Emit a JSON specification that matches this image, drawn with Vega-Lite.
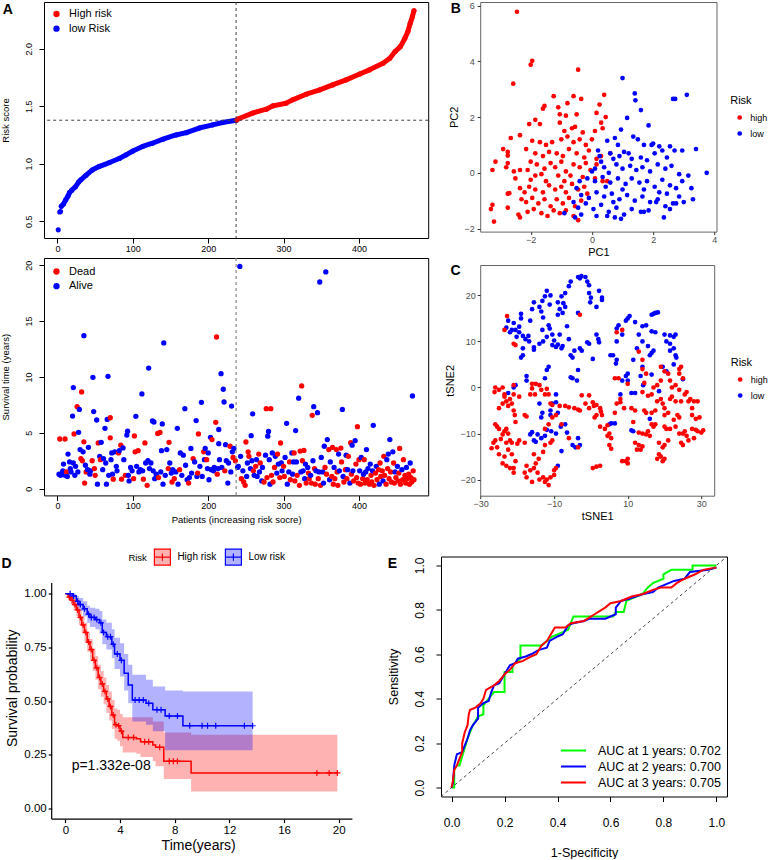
{
  "$schema": "https://vega.github.io/schema/vega-lite/v6.json",
  "background": "white",
  "padding": {"left": 0, "top": 1, "right": 0, "bottom": 0},
  "config": {
    "font": "Liberation Sans",
    "view": {"stroke": null},
    "axis": {"grid": false, "labelFlush": false, "labelOverlap": false, "titleFontWeight": "normal", "titleColor": "#000", "labelColor": "#000", "tickColor": "#000", "domainColor": "#000"},
    "legend": {"titleFontWeight": "normal", "titleColor": "#000", "labelColor": "#000", "padding": 0}
  },
  "datasets": {
    "panels": [{"p": "A"}, {"p": "B"}, {"p": "C"}, {"p": "D"}, {"p": "E"}],
    "cuts": [{"i": 237, "r": 1.378}],
    "pval": [{"txt": "p=1.332e-08"}],
    "riskcurve": [
      {"i":1,"r":0.425,"g":"low Risk"},{"i":3,"r":0.58,"g":"low Risk"},{"i":4,"r":0.585,"g":"low Risk"},{"i":5,"r":0.63,"g":"low Risk"},{"i":8,"r":0.65,"g":"low Risk"},{"i":11,"r":0.686,"g":"low Risk"},{"i":14,"r":0.72,"g":"low Risk"},{"i":16,"r":0.75,"g":"low Risk"},{"i":19,"r":0.77,"g":"low Risk"},{"i":24,"r":0.8,"g":"low Risk"},{"i":28,"r":0.84,"g":"low Risk"},{"i":31,"r":0.86,"g":"low Risk"},{"i":38,"r":0.9,"g":"low Risk"},{"i":46,"r":0.945,"g":"low Risk"},{"i":55,"r":0.975,"g":"low Risk"},{"i":69,"r":1.01,"g":"low Risk"},{"i":82,"r":1.045,"g":"low Risk"},{"i":91,"r":1.077,"g":"low Risk"},{"i":100,"r":1.11,"g":"low Risk"},{"i":113,"r":1.15,"g":"low Risk"},{"i":126,"r":1.178,"g":"low Risk"},{"i":140,"r":1.213,"g":"low Risk"},{"i":157,"r":1.25,"g":"low Risk"},{"i":171,"r":1.27,"g":"low Risk"},{"i":188,"r":1.31,"g":"low Risk"},{"i":206,"r":1.338,"g":"low Risk"},{"i":219,"r":1.358,"g":"low Risk"},{"i":237,"r":1.378,"g":"low Risk"},
      {"i":238,"r":1.38,"g":"High risk"},{"i":241,"r":1.393,"g":"High risk"},{"i":259,"r":1.44,"g":"High risk"},{"i":277,"r":1.474,"g":"High risk"},{"i":286,"r":1.503,"g":"High risk"},{"i":303,"r":1.526,"g":"High risk"},{"i":312,"r":1.555,"g":"High risk"},{"i":330,"r":1.604,"g":"High risk"},{"i":348,"r":1.642,"g":"High risk"},{"i":365,"r":1.685,"g":"High risk"},{"i":383,"r":1.729,"g":"High risk"},{"i":401,"r":1.78,"g":"High risk"},{"i":414,"r":1.816,"g":"High risk"},{"i":432,"r":1.873,"g":"High risk"},{"i":441,"r":1.917,"g":"High risk"},{"i":448,"r":1.975,"g":"High risk"},{"i":455,"r":2.018,"g":"High risk"},{"i":461,"r":2.09,"g":"High risk"},{"i":465,"r":2.15,"g":"High risk"},{"i":468,"r":2.22,"g":"High risk"},{"i":471,"r":2.28,"g":"High risk"},{"i":473,"r":2.33,"g":"High risk"}
    ],
    "surv": [
      {"i":2,"t":1.3,"s":"Alive"},{"i":3,"t":4.45,"s":"Dead"},{"i":4,"t":1.2,"s":"Alive"},{"i":6,"t":1.4,"s":"Alive"},{"i":7,"t":1.6,"s":"Alive"},{"i":8,"t":2.2,"s":"Alive"},{"i":10,"t":4.45,"s":"Dead"},{"i":10,"t":1.2,"s":"Alive"},{"i":12,"t":1.5,"s":"Dead"},{"i":13,"t":1.1,"s":"Alive"},{"i":14,"t":3.1,"s":"Alive"},{"i":16,"t":2.4,"s":"Alive"},{"i":17,"t":1.8,"s":"Alive"},{"i":18,"t":1.5,"s":"Alive"},{"i":20,"t":6.5,"s":"Alive"},{"i":21,"t":9.05,"s":"Alive"},{"i":21,"t":2.3,"s":"Alive"},{"i":22,"t":4.9,"s":"Dead"},{"i":23,"t":1.2,"s":"Alive"},{"i":24,"t":2.0,"s":"Alive"},{"i":26,"t":7.35,"s":"Dead"},{"i":27,"t":1.5,"s":"Alive"},{"i":28,"t":5.05,"s":"Alive"},{"i":29,"t":7.1,"s":"Alive"},{"i":30,"t":3.5,"s":"Alive"},{"i":31,"t":2.7,"s":"Dead"},{"i":32,"t":8.66,"s":"Dead"},{"i":33,"t":2.5,"s":"Dead"},{"i":34,"t":3.3,"s":"Alive"},{"i":35,"t":13.7,"s":"Alive"},{"i":35,"t":4.2,"s":"Dead"},{"i":36,"t":0.5,"s":"Dead"},{"i":37,"t":2.1,"s":"Alive"},{"i":38,"t":1.5,"s":"Dead"},{"i":40,"t":1.7,"s":"Alive"},{"i":41,"t":3.7,"s":"Alive"},{"i":43,"t":1.3,"s":"Alive"},{"i":44,"t":1.6,"s":"Alive"},{"i":46,"t":2.5,"s":"Dead"},{"i":47,"t":9.97,"s":"Alive"},{"i":48,"t":6.9,"s":"Alive"},{"i":49,"t":1.8,"s":"Dead"},{"i":50,"t":1.2,"s":"Dead"},{"i":52,"t":6.15,"s":"Alive"},{"i":53,"t":0.4,"s":"Alive"},{"i":54,"t":4.1,"s":"Dead"},{"i":56,"t":2.9,"s":"Alive"},{"i":57,"t":2.6,"s":"Dead"},{"i":58,"t":4.15,"s":"Alive"},{"i":60,"t":1.7,"s":"Alive"},{"i":61,"t":2.7,"s":"Alive"},{"i":63,"t":5.4,"s":"Alive"},{"i":64,"t":2.3,"s":"Alive"},{"i":65,"t":0.4,"s":"Alive"},{"i":66,"t":6.2,"s":"Alive"},{"i":67,"t":10.06,"s":"Alive"},{"i":68,"t":1.2,"s":"Alive"},{"i":70,"t":6.35,"s":"Dead"},{"i":70,"t":4.55,"s":"Dead"},{"i":71,"t":2.6,"s":"Alive"},{"i":72,"t":3.2,"s":"Alive"},{"i":73,"t":1.3,"s":"Alive"},{"i":74,"t":0.85,"s":"Dead"},{"i":76,"t":3.3,"s":"Alive"},{"i":78,"t":2.0,"s":"Alive"},{"i":79,"t":1.6,"s":"Alive"},{"i":81,"t":3.2,"s":"Dead"},{"i":82,"t":3.4,"s":"Alive"},{"i":84,"t":3.9,"s":"Dead"},{"i":85,"t":0.85,"s":"Dead"},{"i":87,"t":3.65,"s":"Alive"},{"i":88,"t":2.6,"s":"Alive"},{"i":90,"t":1.2,"s":"Dead"},{"i":92,"t":4.8,"s":"Alive"},{"i":93,"t":5.15,"s":"Alive"},{"i":94,"t":1.2,"s":"Alive"},{"i":95,"t":0.7,"s":"Alive"},{"i":97,"t":1.9,"s":"Alive"},{"i":99,"t":1.6,"s":"Alive"},{"i":101,"t":0.9,"s":"Dead"},{"i":102,"t":4.72,"s":"Dead"},{"i":103,"t":3.3,"s":"Dead"},{"i":104,"t":6.48,"s":"Alive"},{"i":105,"t":2.0,"s":"Alive"},{"i":107,"t":3.4,"s":"Dead"},{"i":108,"t":1.5,"s":"Alive"},{"i":110,"t":1.7,"s":"Alive"},{"i":112,"t":8.48,"s":"Alive"},{"i":113,"t":1.6,"s":"Alive"},{"i":114,"t":0.85,"s":"Dead"},{"i":116,"t":4.1,"s":"Dead"},{"i":117,"t":2.3,"s":"Alive"},{"i":119,"t":0.3,"s":"Dead"},{"i":120,"t":2.5,"s":"Alive"},{"i":121,"t":10.8,"s":"Alive"},{"i":122,"t":1.8,"s":"Alive"},{"i":124,"t":2.3,"s":"Alive"},{"i":126,"t":6.06,"s":"Alive"},{"i":127,"t":1.6,"s":"Alive"},{"i":128,"t":5.97,"s":"Alive"},{"i":129,"t":0.9,"s":"Alive"},{"i":131,"t":1.3,"s":"Alive"},{"i":133,"t":4.95,"s":"Dead"},{"i":134,"t":1.0,"s":"Dead"},{"i":136,"t":5.04,"s":"Dead"},{"i":137,"t":1.5,"s":"Alive"},{"i":138,"t":3.4,"s":"Alive"},{"i":139,"t":5.8,"s":"Alive"},{"i":140,"t":0.4,"s":"Alive"},{"i":141,"t":13.05,"s":"Alive"},{"i":143,"t":1.2,"s":"Alive"},{"i":145,"t":3.5,"s":"Alive"},{"i":147,"t":1.8,"s":"Dead"},{"i":148,"t":4.15,"s":"Dead"},{"i":149,"t":2.3,"s":"Alive"},{"i":151,"t":1.4,"s":"Alive"},{"i":152,"t":0.6,"s":"Dead"},{"i":153,"t":1.7,"s":"Alive"},{"i":155,"t":0.9,"s":"Dead"},{"i":157,"t":1.5,"s":"Alive"},{"i":159,"t":5.4,"s":"Alive"},{"i":160,"t":0.4,"s":"Alive"},{"i":162,"t":1.7,"s":"Dead"},{"i":163,"t":3.2,"s":"Alive"},{"i":165,"t":1.2,"s":"Alive"},{"i":167,"t":3.0,"s":"Alive"},{"i":169,"t":7.16,"s":"Alive"},{"i":170,"t":2.1,"s":"Alive"},{"i":172,"t":0.8,"s":"Alive"},{"i":174,"t":0.5,"s":"Dead"},{"i":175,"t":1.0,"s":"Alive"},{"i":177,"t":3.6,"s":"Alive"},{"i":178,"t":1.4,"s":"Alive"},{"i":180,"t":2.7,"s":"Dead"},{"i":182,"t":2.4,"s":"Alive"},{"i":184,"t":6.1,"s":"Alive"},{"i":185,"t":1.1,"s":"Alive"},{"i":186,"t":1.4,"s":"Dead"},{"i":187,"t":4.9,"s":"Dead"},{"i":189,"t":2.0,"s":"Alive"},{"i":191,"t":7.73,"s":"Alive"},{"i":192,"t":1.1,"s":"Alive"},{"i":194,"t":3.3,"s":"Dead"},{"i":195,"t":2.6,"s":"Alive"},{"i":196,"t":3.6,"s":"Alive"},{"i":198,"t":2.6,"s":"Dead"},{"i":199,"t":1.8,"s":"Alive"},{"i":200,"t":3.2,"s":"Alive"},{"i":201,"t":0.8,"s":"Alive"},{"i":203,"t":4.6,"s":"Alive"},{"i":204,"t":1.7,"s":"Alive"},{"i":205,"t":4.4,"s":"Dead"},{"i":207,"t":1.6,"s":"Alive"},{"i":208,"t":1.9,"s":"Alive"},{"i":210,"t":5.94,"s":"Dead"},{"i":211,"t":13.58,"s":"Dead"},{"i":212,"t":1.3,"s":"Dead"},{"i":213,"t":1.8,"s":"Alive"},{"i":214,"t":5.3,"s":"Alive"},{"i":214,"t":4.03,"s":"Alive"},{"i":215,"t":2.6,"s":"Alive"},{"i":217,"t":10.3,"s":"Alive"},{"i":218,"t":1.9,"s":"Alive"},{"i":220,"t":8.9,"s":"Alive"},{"i":221,"t":7.76,"s":"Alive"},{"i":222,"t":1.6,"s":"Dead"},{"i":223,"t":3.94,"s":"Alive"},{"i":224,"t":2.5,"s":"Alive"},{"i":226,"t":0.5,"s":"Alive"},{"i":227,"t":2.3,"s":"Alive"},{"i":229,"t":3.8,"s":"Dead"},{"i":230,"t":1.5,"s":"Alive"},{"i":231,"t":7.4,"s":"Alive"},{"i":232,"t":3.3,"s":"Alive"},{"i":233,"t":2.8,"s":"Dead"},{"i":234,"t":3.6,"s":"Alive"},{"i":236,"t":2.5,"s":"Dead"},
      {"i":239,"t":1.9,"s":"Alive"},{"i":240,"t":2.0,"s":"Alive"},{"i":242,"t":19.9,"s":"Alive"},{"i":243,"t":2.9,"s":"Alive"},{"i":244,"t":0.9,"s":"Dead"},{"i":246,"t":1.6,"s":"Alive"},{"i":247,"t":0.6,"s":"Dead"},{"i":249,"t":0.3,"s":"Dead"},{"i":250,"t":4.18,"s":"Dead"},{"i":251,"t":1.1,"s":"Alive"},{"i":252,"t":2.3,"s":"Alive"},{"i":253,"t":3.3,"s":"Dead"},{"i":254,"t":2.9,"s":"Dead"},{"i":256,"t":1.8,"s":"Alive"},{"i":257,"t":4.75,"s":"Alive"},{"i":258,"t":2.5,"s":"Alive"},{"i":259,"t":6.7,"s":"Alive"},{"i":260,"t":1.6,"s":"Dead"},{"i":261,"t":1.2,"s":"Alive"},{"i":263,"t":2.0,"s":"Dead"},{"i":264,"t":2.6,"s":"Alive"},{"i":265,"t":1.1,"s":"Alive"},{"i":267,"t":3.1,"s":"Dead"},{"i":268,"t":1.5,"s":"Alive"},{"i":269,"t":2.3,"s":"Dead"},{"i":271,"t":0.7,"s":"Alive"},{"i":272,"t":1.9,"s":"Alive"},{"i":274,"t":0.6,"s":"Dead"},{"i":276,"t":3.0,"s":"Alive"},{"i":277,"t":7.16,"s":"Dead"},{"i":278,"t":1.0,"s":"Dead"},{"i":279,"t":4.7,"s":"Alive"},{"i":280,"t":5.13,"s":"Alive"},{"i":281,"t":2.6,"s":"Alive"},{"i":282,"t":0.4,"s":"Alive"},{"i":283,"t":7.16,"s":"Dead"},{"i":284,"t":1.2,"s":"Dead"},{"i":285,"t":3.2,"s":"Alive"},{"i":286,"t":0.6,"s":"Dead"},{"i":288,"t":1.9,"s":"Dead"},{"i":289,"t":2.9,"s":"Alive"},{"i":291,"t":1.4,"s":"Alive"},{"i":292,"t":3.1,"s":"Dead"},{"i":293,"t":2.2,"s":"Alive"},{"i":295,"t":1.0,"s":"Dead"},{"i":296,"t":4.09,"s":"Dead"},{"i":297,"t":2.3,"s":"Alive"},{"i":298,"t":1.6,"s":"Alive"},{"i":300,"t":2.0,"s":"Dead"},{"i":301,"t":1.1,"s":"Dead"},{"i":302,"t":2.8,"s":"Alive"},{"i":304,"t":5.85,"s":"Alive"},{"i":305,"t":0.4,"s":"Alive"},{"i":307,"t":1.5,"s":"Alive"},{"i":308,"t":2.4,"s":"Dead"},{"i":309,"t":0.8,"s":"Dead"},{"i":311,"t":3.2,"s":"Alive"},{"i":312,"t":1.3,"s":"Alive"},{"i":313,"t":2.4,"s":"Alive"},{"i":314,"t":3.2,"s":"Dead"},{"i":315,"t":0.7,"s":"Dead"},{"i":316,"t":5.2,"s":"Alive"},{"i":317,"t":2.4,"s":"Alive"},{"i":318,"t":1.2,"s":"Dead"},{"i":320,"t":8.1,"s":"Alive"},{"i":321,"t":0.3,"s":"Dead"},{"i":322,"t":3.37,"s":"Dead"},{"i":323,"t":1.5,"s":"Alive"},{"i":324,"t":9.2,"s":"Dead"},{"i":325,"t":2.5,"s":"Dead"},{"i":326,"t":1.6,"s":"Alive"},{"i":327,"t":3.43,"s":"Dead"},{"i":328,"t":0.9,"s":"Alive"},{"i":329,"t":2.2,"s":"Alive"},{"i":330,"t":0.5,"s":"Dead"},{"i":332,"t":1.9,"s":"Alive"},{"i":333,"t":1.4,"s":"Dead"},{"i":334,"t":0.9,"s":"Dead"},{"i":336,"t":1.2,"s":"Alive"},{"i":337,"t":0.5,"s":"Dead"},{"i":338,"t":6.57,"s":"Dead"},{"i":339,"t":2.5,"s":"Alive"},{"i":340,"t":7.34,"s":"Alive"},{"i":341,"t":1.8,"s":"Dead"},{"i":342,"t":0.4,"s":"Dead"},{"i":343,"t":1.6,"s":"Alive"},{"i":345,"t":6.8,"s":"Alive"},{"i":346,"t":0.9,"s":"Dead"},{"i":347,"t":1.5,"s":"Alive"},{"i":348,"t":18.5,"s":"Alive"},{"i":349,"t":0.3,"s":"Dead"},{"i":350,"t":2.8,"s":"Alive"},{"i":352,"t":1.5,"s":"Alive"},{"i":353,"t":0.5,"s":"Alive"},{"i":354,"t":3.8,"s":"Alive"},{"i":355,"t":1.9,"s":"Dead"},{"i":356,"t":19.4,"s":"Alive"},{"i":357,"t":1.3,"s":"Dead"},{"i":358,"t":4.4,"s":"Alive"},{"i":360,"t":3.5,"s":"Dead"},{"i":361,"t":0.8,"s":"Alive"},{"i":362,"t":2.4,"s":"Alive"},{"i":364,"t":1.1,"s":"Dead"},{"i":365,"t":3.7,"s":"Dead"},{"i":366,"t":0.4,"s":"Dead"},{"i":367,"t":1.9,"s":"Alive"},{"i":368,"t":0.9,"s":"Dead"},{"i":370,"t":3.5,"s":"Dead"},{"i":371,"t":1.5,"s":"Dead"},{"i":372,"t":0.3,"s":"Dead"},{"i":373,"t":3.1,"s":"Alive"},{"i":374,"t":1.6,"s":"Alive"},{"i":376,"t":3.64,"s":"Dead"},{"i":377,"t":2.4,"s":"Dead"},{"i":378,"t":7.1,"s":"Alive"},{"i":379,"t":1.1,"s":"Alive"},{"i":380,"t":0.6,"s":"Dead"},{"i":382,"t":1.7,"s":"Dead"},{"i":383,"t":3.0,"s":"Alive"},{"i":384,"t":0.9,"s":"Dead"},{"i":385,"t":1.7,"s":"Alive"},{"i":386,"t":2.9,"s":"Dead"},{"i":388,"t":0.5,"s":"Alive"},{"i":389,"t":4.12,"s":"Dead"},{"i":390,"t":1.3,"s":"Dead"},{"i":391,"t":3.9,"s":"Alive"},{"i":392,"t":1.6,"s":"Alive"},{"i":393,"t":0.7,"s":"Dead"},{"i":395,"t":4.3,"s":"Alive"},{"i":396,"t":2.2,"s":"Dead"},{"i":397,"t":1.0,"s":"Dead"},{"i":398,"t":5.55,"s":"Dead"},{"i":399,"t":0.5,"s":"Dead"},{"i":400,"t":2.6,"s":"Dead"},{"i":401,"t":1.6,"s":"Alive"},{"i":402,"t":0.4,"s":"Dead"},{"i":403,"t":2.8,"s":"Alive"},{"i":405,"t":0.9,"s":"Dead"},{"i":406,"t":1.3,"s":"Alive"},{"i":407,"t":2.6,"s":"Dead"},{"i":408,"t":0.5,"s":"Dead"},{"i":409,"t":1.5,"s":"Alive"},{"i":410,"t":3.5,"s":"Alive"},{"i":411,"t":0.8,"s":"Dead"},{"i":412,"t":1.8,"s":"Alive"},{"i":414,"t":0.4,"s":"Dead"},{"i":415,"t":2.2,"s":"Alive"},{"i":416,"t":1.2,"s":"Dead"},{"i":417,"t":0.6,"s":"Dead"},{"i":418,"t":1.6,"s":"Alive"},{"i":419,"t":5.67,"s":"Alive"},{"i":420,"t":0.3,"s":"Dead"},{"i":422,"t":1.4,"s":"Dead"},{"i":423,"t":2.0,"s":"Alive"},{"i":424,"t":0.8,"s":"Dead"},{"i":426,"t":1.7,"s":"Dead"},{"i":427,"t":0.4,"s":"Alive"},{"i":428,"t":2.3,"s":"Dead"},{"i":429,"t":1.1,"s":"Dead"},{"i":431,"t":1.6,"s":"Dead"},{"i":432,"t":0.7,"s":"Alive"},{"i":433,"t":2.9,"s":"Dead"},{"i":434,"t":1.2,"s":"Dead"},{"i":436,"t":0.4,"s":"Dead"},{"i":437,"t":2.6,"s":"Alive"},{"i":438,"t":1.8,"s":"Dead"},{"i":439,"t":3.1,"s":"Alive"},{"i":440,"t":0.9,"s":"Dead"},{"i":441,"t":4.4,"s":"Alive"},{"i":442,"t":1.5,"s":"Dead"},{"i":443,"t":0.6,"s":"Dead"},{"i":445,"t":3.3,"s":"Alive"},{"i":446,"t":2.3,"s":"Dead"},{"i":447,"t":0.5,"s":"Dead"},{"i":448,"t":1.5,"s":"Alive"},{"i":449,"t":1.0,"s":"Dead"},{"i":451,"t":2.0,"s":"Alive"},{"i":452,"t":0.7,"s":"Dead"},{"i":453,"t":1.4,"s":"Dead"},{"i":454,"t":3.6,"s":"Dead"},{"i":455,"t":0.4,"s":"Dead"},{"i":457,"t":1.7,"s":"Alive"},{"i":458,"t":0.8,"s":"Dead"},{"i":459,"t":2.6,"s":"Dead"},{"i":461,"t":1.2,"s":"Dead"},{"i":462,"t":0.5,"s":"Dead"},{"i":463,"t":1.9,"s":"Alive"},{"i":464,"t":0.9,"s":"Dead"},{"i":466,"t":1.3,"s":"Dead"},{"i":467,"t":0.4,"s":"Dead"},{"i":468,"t":2.3,"s":"Alive"},{"i":469,"t":1.0,"s":"Dead"},{"i":470,"t":0.6,"s":"Dead"},{"i":471,"t":8.3,"s":"Alive"},{"i":472,"t":1.6,"s":"Dead"},{"i":473,"t":0.8,"s":"Dead"}
    ],
    "pca": [
      {"x":-2.45,"y":5.78,"r":"high"},{"x":-2.0,"y":3.88,"r":"high"},{"x":-1.95,"y":4.02,"r":"high"},{"x":-2.57,"y":3.2,"r":"high"},{"x":-0.45,"y":3.7,"r":"high"},{"x":-1.25,"y":2.75,"r":"high"},{"x":-0.8,"y":2.5,"r":"high"},{"x":-0.6,"y":2.75,"r":"high"},{"x":-0.35,"y":2.65,"r":"high"},{"x":0.4,"y":2.8,"r":"high"},{"x":0.25,"y":2.45,"r":"high"},{"x":-1.55,"y":2.4,"r":"high"},{"x":-1.6,"y":2.3,"r":"high"},{"x":-1.1,"y":2.35,"r":"high"},{"x":-1.05,"y":2.1,"r":"high"},{"x":-0.85,"y":2.05,"r":"high"},{"x":-0.5,"y":2.1,"r":"high"},{"x":0.15,"y":2.15,"r":"high"},{"x":0.45,"y":2.0,"r":"high"},{"x":0.3,"y":1.8,"r":"high"},{"x":-2.05,"y":1.75,"r":"high"},{"x":-1.85,"y":1.9,"r":"high"},{"x":-1.7,"y":1.75,"r":"high"},{"x":-1.05,"y":1.8,"r":"high"},{"x":-0.65,"y":1.6,"r":"high"},{"x":-0.55,"y":1.65,"r":"high"},{"x":-0.9,"y":1.5,"r":"high"},{"x":-0.3,"y":1.45,"r":"high"},{"x":0.1,"y":1.5,"r":"high"},{"x":0.35,"y":1.6,"r":"high"},{"x":-2.35,"y":1.35,"r":"high"},{"x":-2.65,"y":1.25,"r":"high"},{"x":-1.95,"y":1.15,"r":"high"},{"x":-1.7,"y":1.1,"r":"high"},{"x":-1.5,"y":1.0,"r":"high"},{"x":-1.3,"y":1.1,"r":"high"},{"x":-1.0,"y":1.2,"r":"high"},{"x":-0.8,"y":1.3,"r":"high"},{"x":-0.6,"y":1.1,"r":"high"},{"x":-0.4,"y":1.2,"r":"high"},{"x":-0.2,"y":1.0,"r":"high"},{"x":0.0,"y":1.2,"r":"high"},{"x":0.3,"y":0.6,"r":"high"},{"x":0.6,"y":0.7,"r":"high"},{"x":-2.9,"y":0.85,"r":"high"},{"x":-2.75,"y":0.75,"r":"high"},{"x":-2.75,"y":0.62,"r":"high"},{"x":-2.15,"y":0.85,"r":"high"},{"x":-1.85,"y":0.7,"r":"high"},{"x":-1.6,"y":0.6,"r":"high"},{"x":-1.4,"y":0.75,"r":"high"},{"x":-1.15,"y":0.7,"r":"high"},{"x":-0.95,"y":0.6,"r":"high"},{"x":-0.75,"y":0.85,"r":"high"},{"x":-0.5,"y":0.7,"r":"high"},{"x":-0.25,"y":0.55,"r":"high"},{"x":-0.1,"y":0.8,"r":"high"},{"x":0.15,"y":0.5,"r":"high"},{"x":-2.75,"y":0.35,"r":"high"},{"x":-2.55,"y":0.05,"r":"high"},{"x":-2.35,"y":0.1,"r":"high"},{"x":-2.0,"y":0.4,"r":"high"},{"x":-1.8,"y":0.3,"r":"high"},{"x":-1.55,"y":0.15,"r":"high"},{"x":-1.35,"y":0.35,"r":"high"},{"x":-1.2,"y":0.2,"r":"high"},{"x":-1.0,"y":0.4,"r":"high"},{"x":-0.85,"y":0.05,"r":"high"},{"x":-0.6,"y":0.3,"r":"high"},{"x":-0.4,"y":0.2,"r":"high"},{"x":-0.2,"y":0.35,"r":"high"},{"x":-0.05,"y":0.1,"r":"high"},{"x":-3.25,"y":0.1,"r":"high"},{"x":-3.15,"y":0.4,"r":"high"},{"x":-2.8,"y":0.2,"r":"high"},{"x":-2.1,"y":0.1,"r":"high"},{"x":-1.65,"y":-0.05,"r":"high"},{"x":-1.1,"y":-0.1,"r":"high"},{"x":-0.7,"y":-0.1,"r":"high"},{"x":-0.3,"y":-0.15,"r":"high"},{"x":0.1,"y":-0.2,"r":"high"},{"x":0.35,"y":-0.3,"r":"high"},{"x":-2.35,"y":-0.55,"r":"high"},{"x":-2.2,"y":-0.7,"r":"high"},{"x":-2.05,"y":-0.5,"r":"high"},{"x":-1.85,"y":-0.6,"r":"high"},{"x":-1.6,"y":-0.7,"r":"high"},{"x":-1.4,"y":-0.45,"r":"high"},{"x":-1.2,"y":-0.6,"r":"high"},{"x":-1.0,"y":-0.5,"r":"high"},{"x":-0.85,"y":-0.7,"r":"high"},{"x":-0.65,"y":-0.4,"r":"high"},{"x":-0.45,"y":-0.6,"r":"high"},{"x":-0.25,"y":-0.5,"r":"high"},{"x":-0.15,"y":-0.75,"r":"high"},{"x":-2.75,"y":-0.75,"r":"high"},{"x":-2.7,"y":-0.73,"r":"high"},{"x":-2.3,"y":-0.95,"r":"high"},{"x":-2.15,"y":-1.05,"r":"high"},{"x":-1.95,"y":-0.9,"r":"high"},{"x":-1.75,"y":-1.1,"r":"high"},{"x":-1.55,"y":-0.95,"r":"high"},{"x":-1.35,"y":-1.2,"r":"high"},{"x":-1.15,"y":-0.95,"r":"high"},{"x":-0.95,"y":-1.1,"r":"high"},{"x":-0.75,"y":-0.9,"r":"high"},{"x":-0.55,"y":-1.2,"r":"high"},{"x":-0.35,"y":-1.0,"r":"high"},{"x":-3.3,"y":-1.3,"r":"high"},{"x":-3.25,"y":-1.15,"r":"high"},{"x":-3.2,"y":-1.75,"r":"high"},{"x":-2.75,"y":-1.25,"r":"high"},{"x":-2.4,"y":-1.5,"r":"high"},{"x":-2.35,"y":-1.6,"r":"high"},{"x":-2.1,"y":-1.4,"r":"high"},{"x":-1.9,"y":-1.3,"r":"high"},{"x":-1.65,"y":-1.45,"r":"high"},{"x":-1.45,"y":-1.55,"r":"high"},{"x":-1.25,"y":-1.35,"r":"high"},{"x":-1.05,"y":-1.45,"r":"high"},{"x":-0.85,"y":-1.35,"r":"high"},{"x":-0.6,"y":-1.55,"r":"high"},{"x":-0.45,"y":-1.7,"r":"high"},{"x":-2.5,"y":-0.2,"r":"high"},{"x":-2.0,"y":-0.25,"r":"high"},{"x":-1.5,"y":-0.3,"r":"high"},{"x":-0.9,"y":-0.3,"r":"high"},{"x":0.15,"y":0.3,"r":"high"},{"x":0.5,"y":-0.3,"r":"high"},{"x":-1.85,"y":-0.1,"r":"high"},
      {"x":1.0,"y":3.4,"r":"low"},{"x":1.4,"y":2.85,"r":"low"},{"x":1.42,"y":2.6,"r":"low"},{"x":2.65,"y":2.65,"r":"low"},{"x":2.72,"y":2.65,"r":"low"},{"x":3.1,"y":2.8,"r":"low"},{"x":1.6,"y":2.25,"r":"low"},{"x":1.15,"y":1.97,"r":"low"},{"x":1.85,"y":1.7,"r":"low"},{"x":0.95,"y":1.55,"r":"low"},{"x":0.5,"y":1.15,"r":"low"},{"x":0.75,"y":1.25,"r":"low"},{"x":0.85,"y":1.0,"r":"low"},{"x":1.35,"y":1.3,"r":"low"},{"x":1.5,"y":1.2,"r":"low"},{"x":1.7,"y":1.0,"r":"low"},{"x":1.95,"y":1.0,"r":"low"},{"x":2.0,"y":1.05,"r":"low"},{"x":2.2,"y":0.95,"r":"low"},{"x":1.05,"y":0.75,"r":"low"},{"x":1.2,"y":0.7,"r":"low"},{"x":0.9,"y":0.6,"r":"low"},{"x":0.7,"y":0.5,"r":"low"},{"x":1.6,"y":0.55,"r":"low"},{"x":1.8,"y":0.45,"r":"low"},{"x":2.05,"y":0.7,"r":"low"},{"x":2.3,"y":0.8,"r":"low"},{"x":2.45,"y":0.55,"r":"low"},{"x":2.7,"y":0.8,"r":"low"},{"x":2.95,"y":0.8,"r":"low"},{"x":3.4,"y":0.85,"r":"low"},{"x":0.2,"y":0.8,"r":"low"},{"x":0.3,"y":0.4,"r":"low"},{"x":0.4,"y":0.2,"r":"low"},{"x":0.55,"y":0.0,"r":"low"},{"x":0.8,"y":0.3,"r":"low"},{"x":1.0,"y":0.15,"r":"low"},{"x":1.25,"y":0.25,"r":"low"},{"x":1.45,"y":0.1,"r":"low"},{"x":1.65,"y":0.2,"r":"low"},{"x":1.9,"y":0.05,"r":"low"},{"x":2.15,"y":0.3,"r":"low"},{"x":2.4,"y":0.15,"r":"low"},{"x":2.6,"y":0.25,"r":"low"},{"x":2.85,"y":-0.05,"r":"low"},{"x":3.15,"y":-0.1,"r":"low"},{"x":3.75,"y":0.0,"r":"low"},{"x":0.0,"y":0.05,"r":"low"},{"x":-0.15,"y":-0.2,"r":"low"},{"x":0.1,"y":-0.3,"r":"low"},{"x":0.35,"y":-0.15,"r":"low"},{"x":0.6,"y":-0.35,"r":"low"},{"x":0.85,"y":-0.2,"r":"low"},{"x":1.1,"y":-0.4,"r":"low"},{"x":1.3,"y":-0.2,"r":"low"},{"x":1.55,"y":-0.35,"r":"low"},{"x":1.8,"y":-0.3,"r":"low"},{"x":2.05,"y":-0.5,"r":"low"},{"x":2.3,"y":-0.25,"r":"low"},{"x":2.55,"y":-0.45,"r":"low"},{"x":2.75,"y":-0.55,"r":"low"},{"x":2.95,"y":-0.3,"r":"low"},{"x":3.25,"y":-0.55,"r":"low"},{"x":-0.35,"y":-0.8,"r":"low"},{"x":-0.1,"y":-0.9,"r":"low"},{"x":0.15,"y":-0.7,"r":"low"},{"x":0.4,"y":-0.85,"r":"low"},{"x":0.65,"y":-0.75,"r":"low"},{"x":0.9,"y":-0.95,"r":"low"},{"x":1.15,"y":-0.8,"r":"low"},{"x":1.4,"y":-1.0,"r":"low"},{"x":1.65,"y":-0.85,"r":"low"},{"x":1.9,"y":-1.05,"r":"low"},{"x":2.15,"y":-0.95,"r":"low"},{"x":2.4,"y":-1.2,"r":"low"},{"x":2.65,"y":-1.1,"r":"low"},{"x":2.85,"y":-0.85,"r":"low"},{"x":3.3,"y":-0.95,"r":"low"},{"x":-0.6,"y":-1.05,"r":"low"},{"x":-0.45,"y":-1.25,"r":"low"},{"x":-0.2,"y":-1.1,"r":"low"},{"x":0.05,"y":-1.3,"r":"low"},{"x":0.3,"y":-1.15,"r":"low"},{"x":0.55,"y":-1.4,"r":"low"},{"x":0.8,"y":-1.25,"r":"low"},{"x":1.05,"y":-1.5,"r":"low"},{"x":1.3,"y":-1.3,"r":"low"},{"x":1.6,"y":-1.4,"r":"low"},{"x":1.85,"y":-1.35,"r":"low"},{"x":2.1,"y":-1.05,"r":"low"},{"x":2.35,"y":-1.6,"r":"low"},{"x":2.55,"y":-1.3,"r":"low"},{"x":2.75,"y":-1.1,"r":"low"},{"x":3.0,"y":-1.05,"r":"low"},{"x":-0.9,"y":-1.45,"r":"low"},{"x":-0.55,"y":-1.6,"r":"low"},{"x":-0.35,"y":-1.5,"r":"low"},{"x":0.15,"y":-1.55,"r":"low"},{"x":0.5,"y":-1.55,"r":"low"},{"x":0.75,"y":-1.6,"r":"low"},{"x":0.95,"y":-1.65,"r":"low"},{"x":1.7,"y":-1.4,"r":"low"},{"x":0.25,"y":0.6,"r":"low"},{"x":0.6,"y":0.7,"r":"low"},{"x":1.3,"y":0.5,"r":"low"},{"x":2.55,"y":0.95,"r":"low"},{"x":1.0,"y":-0.6,"r":"low"},{"x":1.7,"y":-0.6,"r":"low"},{"x":0.45,"y":-0.5,"r":"low"},{"x":2.2,"y":-0.7,"r":"low"},{"x":-0.4,"y":-0.3,"r":"low"},{"x":0.1,"y":0.15,"r":"low"},{"x":-0.5,"y":-0.55,"r":"low"},{"x":2.45,"y":-0.75,"r":"low"},{"x":0.7,"y":-1.05,"r":"low"}
    ],
    "tsne": [
      {"x":-3.5,"y":24,"r":"low"},{"x":-3,"y":23.7,"r":"low"},{"x":-2.6,"y":24.2,"r":"low"},{"x":-1.5,"y":24,"r":"low"},{"x":-1,"y":23,"r":"low"},{"x":-0.5,"y":22.2,"r":"low"},{"x":-5.5,"y":23,"r":"low"},{"x":-6,"y":22,"r":"low"},{"x":-7,"y":20.5,"r":"low"},{"x":-8,"y":19.8,"r":"low"},{"x":-9,"y":18.5,"r":"low"},{"x":-7.5,"y":18.3,"r":"low"},{"x":-8.5,"y":17,"r":"low"},{"x":-9,"y":15.8,"r":"low"},{"x":-7.7,"y":16.2,"r":"low"},{"x":-7,"y":17.5,"r":"low"},{"x":-6.5,"y":13.3,"r":"low"},{"x":-3.5,"y":16.2,"r":"low"},{"x":-0.5,"y":20.5,"r":"low"},{"x":0,"y":19.5,"r":"low"},{"x":-0.2,"y":18.5,"r":"low"},{"x":1.5,"y":17.5,"r":"low"},{"x":2.2,"y":21,"r":"low"},{"x":3,"y":19.5,"r":"low"},{"x":3,"y":19,"r":"low"},{"x":-12,"y":21,"r":"low"},{"x":-11,"y":20,"r":"low"},{"x":-12.5,"y":19.8,"r":"low"},{"x":-13.2,"y":18.8,"r":"low"},{"x":-14,"y":17.5,"r":"low"},{"x":-13.5,"y":16.5,"r":"low"},{"x":-15.5,"y":18.5,"r":"low"},{"x":-16,"y":17,"r":"low"},{"x":-11.2,"y":18,"r":"low"},{"x":-13,"y":15.2,"r":"low"},{"x":-11.5,"y":13.5,"r":"low"},{"x":-11.2,"y":12.8,"r":"low"},{"x":-13.2,"y":12.5,"r":"low"},{"x":-16.5,"y":14.5,"r":"low"},{"x":-19,"y":16,"r":"low"},{"x":-19,"y":15,"r":"low"},{"x":-21,"y":14,"r":"low"},{"x":-22.5,"y":14.5,"r":"low"},{"x":-23,"y":13,"r":"low"},{"x":-21.5,"y":12.5,"r":"low"},{"x":-22,"y":12,"r":"low"},{"x":-20.5,"y":12.5,"r":"low"},{"x":-19.5,"y":13.2,"r":"low"},{"x":-19.5,"y":12,"r":"low"},{"x":-18.5,"y":11.2,"r":"low"},{"x":-20.2,"y":11,"r":"low"},{"x":-17.8,"y":10.5,"r":"low"},{"x":-16.8,"y":10,"r":"low"},{"x":-17,"y":11.2,"r":"low"},{"x":-18.5,"y":8.5,"r":"low"},{"x":-18.5,"y":7,"r":"low"},{"x":-19,"y":6.5,"r":"low"},{"x":-15.5,"y":8.7,"r":"low"},{"x":-15.5,"y":8.2,"r":"low"},{"x":-14,"y":9.5,"r":"low"},{"x":-13,"y":10,"r":"low"},{"x":-12,"y":11,"r":"low"},{"x":-10.5,"y":11.5,"r":"low"},{"x":-10,"y":10.2,"r":"low"},{"x":-9,"y":9.3,"r":"low"},{"x":-9.5,"y":8.8,"r":"low"},{"x":-8,"y":8.5,"r":"low"},{"x":-7.7,"y":9,"r":"low"},{"x":-10.5,"y":9.2,"r":"low"},{"x":-8.5,"y":11.5,"r":"low"},{"x":-6,"y":10.5,"r":"low"},{"x":-5.5,"y":7,"r":"low"},{"x":-4.5,"y":8,"r":"low"},{"x":-3,"y":8.5,"r":"low"},{"x":-2.5,"y":8,"r":"low"},{"x":-1,"y":9.8,"r":"low"},{"x":-0.5,"y":9.5,"r":"low"},{"x":1.5,"y":11.5,"r":"low"},{"x":2,"y":10.5,"r":"low"},{"x":2.2,"y":9.8,"r":"low"},{"x":0.5,"y":6.2,"r":"low"},{"x":-5,"y":6.5,"r":"low"},{"x":-5.5,"y":2.2,"r":"low"},{"x":-5,"y":2,"r":"low"},{"x":-3.8,"y":1.5,"r":"low"},{"x":-3.5,"y":3.8,"r":"low"},{"x":-11.5,"y":4.5,"r":"low"},{"x":-12,"y":3.8,"r":"low"},{"x":-12.5,"y":2,"r":"low"},{"x":-17.5,"y":2.5,"r":"low"},{"x":-17.5,"y":1.5,"r":"low"},{"x":-21,"y":0,"r":"low"},{"x":-22.5,"y":-1.2,"r":"low"},{"x":-9.5,"y":-1.5,"r":"low"},{"x":-10.5,"y":-3.5,"r":"low"},{"x":-11,"y":-6,"r":"low"},{"x":-9.5,"y":-3.2,"r":"low"},{"x":-9,"y":-5.5,"r":"low"},{"x":-8.2,"y":-8.5,"r":"low"},{"x":-7,"y":-8,"r":"low"},{"x":-6.5,"y":-9.8,"r":"low"},{"x":-5,"y":-12.5,"r":"low"},{"x":-4.2,"y":-13,"r":"low"},{"x":-3.5,"y":-11,"r":"low"},{"x":-3,"y":-12.5,"r":"low"},{"x":-8,"y":-13.8,"r":"low"},{"x":-9.5,"y":-10,"r":"low"},{"x":-10.8,"y":-9.5,"r":"low"},{"x":-12,"y":-9.2,"r":"low"},{"x":-12.5,"y":-10.5,"r":"low"},{"x":-13.5,"y":-11,"r":"low"},{"x":-14.5,"y":-10.2,"r":"low"},{"x":-15.5,"y":-11.5,"r":"low"},{"x":-15,"y":-11.8,"r":"low"},{"x":-16.5,"y":-10.2,"r":"low"},{"x":-16,"y":-9.7,"r":"low"},{"x":-13.5,"y":-6.5,"r":"low"},{"x":-13.2,"y":-5.5,"r":"low"},{"x":-14,"y":-3.5,"r":"low"},{"x":-11,"y":-5,"r":"low"},{"x":-9,"y":-17,"r":"low"},{"x":5.5,"y":-7.8,"r":"low"},{"x":5,"y":-8,"r":"low"},{"x":6.5,"y":-7.8,"r":"low"},{"x":7,"y":12.8,"r":"low"},{"x":7.5,"y":13.5,"r":"low"},{"x":8.5,"y":11.5,"r":"low"},{"x":7,"y":10,"r":"low"},{"x":9.5,"y":14.5,"r":"low"},{"x":10,"y":15,"r":"low"},{"x":10.5,"y":15.5,"r":"low"},{"x":12,"y":14.2,"r":"low"},{"x":14,"y":13.3,"r":"low"},{"x":15,"y":13.5,"r":"low"},{"x":13,"y":11.5,"r":"low"},{"x":16.5,"y":12.2,"r":"low"},{"x":17.5,"y":12,"r":"low"},{"x":17,"y":16,"r":"low"},{"x":17.5,"y":16.2,"r":"low"},{"x":18.2,"y":16.3,"r":"low"},{"x":16.5,"y":15.8,"r":"low"},{"x":20,"y":11.5,"r":"low"},{"x":21.5,"y":11.3,"r":"low"},{"x":22.5,"y":11,"r":"low"},{"x":23,"y":11.5,"r":"low"},{"x":20.5,"y":10,"r":"low"},{"x":21.5,"y":9.5,"r":"low"},{"x":22.5,"y":8.5,"r":"low"},{"x":21.5,"y":8,"r":"low"},{"x":23,"y":7,"r":"low"},{"x":23.2,"y":6.5,"r":"low"},{"x":22.5,"y":5,"r":"low"},{"x":19.5,"y":4.5,"r":"low"},{"x":20.5,"y":3.5,"r":"low"},{"x":16,"y":7,"r":"low"},{"x":16.5,"y":7.5,"r":"low"},{"x":17,"y":8,"r":"low"},{"x":15.5,"y":9,"r":"low"},{"x":14,"y":10,"r":"low"},{"x":12.5,"y":8.5,"r":"low"},{"x":11.5,"y":6,"r":"low"},{"x":14,"y":4.5,"r":"low"},{"x":13.5,"y":2.5,"r":"low"},{"x":14.2,"y":0.5,"r":"low"},{"x":16.5,"y":2.8,"r":"low"},{"x":18.5,"y":-0.8,"r":"low"},{"x":9.5,"y":2.5,"r":"low"},{"x":10,"y":3,"r":"low"},{"x":10,"y":1.5,"r":"low"},{"x":8.5,"y":1.5,"r":"low"},{"x":11,"y":-1.2,"r":"low"},{"x":12,"y":-1.2,"r":"low"},{"x":6,"y":7,"r":"low"},{"x":7,"y":6,"r":"low"},{"x":6.8,"y":5.2,"r":"low"},{"x":5.3,"y":7,"r":"low"},{"x":25,"y":1.8,"r":"low"},{"x":16,"y":-6.8,"r":"low"},{"x":11,"y":-9.3,"r":"low"},{"x":11.5,"y":-9.5,"r":"low"},{"x":-20.5,"y":0.5,"r":"low"},{"x":8,"y":-1.5,"r":"low"},
      {"x":-27,"y":-13.2,"r":"high"},{"x":-26.5,"y":-12,"r":"high"},{"x":-26,"y":-11.5,"r":"high"},{"x":-25.5,"y":-13,"r":"high"},{"x":-25,"y":-14.5,"r":"high"},{"x":-26,"y":-8,"r":"high"},{"x":-25.5,"y":-8.5,"r":"high"},{"x":-25,"y":-9,"r":"high"},{"x":-24,"y":-10.2,"r":"high"},{"x":-24.5,"y":-11.2,"r":"high"},{"x":-23.5,"y":-9.5,"r":"high"},{"x":-23,"y":-9,"r":"high"},{"x":-22.5,"y":-10,"r":"high"},{"x":-23,"y":-12,"r":"high"},{"x":-22,"y":-11.5,"r":"high"},{"x":-21.5,"y":-12,"r":"high"},{"x":-22.5,"y":-13.5,"r":"high"},{"x":-23.5,"y":-15,"r":"high"},{"x":-24,"y":-16.5,"r":"high"},{"x":-23,"y":-17,"r":"high"},{"x":-22,"y":-17.5,"r":"high"},{"x":-21,"y":-18.5,"r":"high"},{"x":-21,"y":-17.5,"r":"high"},{"x":-20.5,"y":-16,"r":"high"},{"x":-21.5,"y":-14.5,"r":"high"},{"x":-20,"y":-12.2,"r":"high"},{"x":-19.5,"y":-11.5,"r":"high"},{"x":-18,"y":-12,"r":"high"},{"x":-17.5,"y":-17,"r":"high"},{"x":-18,"y":-18.5,"r":"high"},{"x":-17.5,"y":-19.5,"r":"high"},{"x":-16.5,"y":-18,"r":"high"},{"x":-16,"y":-20.5,"r":"high"},{"x":-15.5,"y":-17.5,"r":"high"},{"x":-15,"y":-16.5,"r":"high"},{"x":-14.5,"y":-18.5,"r":"high"},{"x":-14,"y":-20,"r":"high"},{"x":-13,"y":-19.5,"r":"high"},{"x":-12.5,"y":-20.5,"r":"high"},{"x":-12,"y":-20,"r":"high"},{"x":-11.5,"y":-21.2,"r":"high"},{"x":-11,"y":-19.5,"r":"high"},{"x":-10,"y":-19,"r":"high"},{"x":-10,"y":-18,"r":"high"},{"x":-9.5,"y":-17.5,"r":"high"},{"x":-14.2,"y":-15.5,"r":"high"},{"x":-13,"y":-14,"r":"high"},{"x":-15.5,"y":-14.5,"r":"high"},{"x":-12.5,"y":-12.5,"r":"high"},{"x":-11,"y":-12,"r":"high"},{"x":-10.5,"y":-11.5,"r":"high"},{"x":-26,"y":0,"r":"high"},{"x":-26.2,"y":-1,"r":"high"},{"x":-25,"y":-0.5,"r":"high"},{"x":-24,"y":0,"r":"high"},{"x":-23.5,"y":-1.5,"r":"high"},{"x":-23.5,"y":-2,"r":"high"},{"x":-23,"y":-3,"r":"high"},{"x":-22,"y":-2.5,"r":"high"},{"x":-22.5,"y":-4,"r":"high"},{"x":-21.5,"y":-3.5,"r":"high"},{"x":-21,"y":-1.5,"r":"high"},{"x":-21,"y":-5,"r":"high"},{"x":-20.7,"y":-6,"r":"high"},{"x":-24,"y":-3.5,"r":"high"},{"x":-25,"y":-4.5,"r":"high"},{"x":-20.5,"y":-7.5,"r":"high"},{"x":-18,"y":-6,"r":"high"},{"x":-17.5,"y":-6.3,"r":"high"},{"x":-19.5,"y":-2,"r":"high"},{"x":-16,"y":0.8,"r":"high"},{"x":-15,"y":0.8,"r":"high"},{"x":-16,"y":-0.2,"r":"high"},{"x":-14,"y":0.5,"r":"high"},{"x":-13.5,"y":-0.5,"r":"high"},{"x":-12.5,"y":-1.5,"r":"high"},{"x":-12,"y":-0.3,"r":"high"},{"x":-11.5,"y":-1.5,"r":"high"},{"x":-15.2,"y":-1.5,"r":"high"},{"x":-16.5,"y":-1.5,"r":"high"},{"x":-11,"y":-3.5,"r":"high"},{"x":-10.5,"y":-3.8,"r":"high"},{"x":-10.5,"y":-6.5,"r":"high"},{"x":-9.5,"y":-6,"r":"high"},{"x":-11.5,"y":-8,"r":"high"},{"x":-12.5,"y":-9,"r":"high"},{"x":-23.5,"y":12.5,"r":"high"},{"x":-22.8,"y":15.5,"r":"high"},{"x":-20.5,"y":9.2,"r":"high"},{"x":-21,"y":9.5,"r":"high"},{"x":-21,"y":0.5,"r":"high"},
      {"x":-8.5,"y":-4,"r":"high"},{"x":-7,"y":-4,"r":"high"},{"x":-6,"y":-4.3,"r":"high"},{"x":-4.5,"y":-4.5,"r":"high"},{"x":-3.5,"y":-4.8,"r":"high"},{"x":-3,"y":-5,"r":"high"},{"x":-2.5,"y":-1.7,"r":"high"},{"x":-1.5,"y":-3.5,"r":"high"},{"x":-0.5,"y":-1.7,"r":"high"},{"x":-0.5,"y":-4.5,"r":"high"},{"x":0.5,"y":-3.2,"r":"high"},{"x":0.8,"y":-4,"r":"high"},{"x":1.5,"y":-3.8,"r":"high"},{"x":2.5,"y":-4.5,"r":"high"},{"x":2.7,"y":-5.2,"r":"high"},{"x":1.5,"y":-6,"r":"high"},{"x":1,"y":-6.5,"r":"high"},{"x":3,"y":-6,"r":"high"},{"x":2.5,"y":-8.5,"r":"high"},{"x":3.8,"y":-9,"r":"high"},{"x":4.5,"y":-8.2,"r":"high"},{"x":4.5,"y":-10.5,"r":"high"},{"x":5,"y":-10,"r":"high"},{"x":5.5,"y":-11,"r":"high"},{"x":5,"y":-12.5,"r":"high"},{"x":5.5,"y":-13.3,"r":"high"},{"x":6.5,"y":-5.5,"r":"high"},{"x":7,"y":-3.5,"r":"high"},{"x":8,"y":-2.5,"r":"high"},{"x":8,"y":-3.2,"r":"high"},{"x":9,"y":-4.5,"r":"high"},{"x":8.5,"y":-16,"r":"high"},{"x":9.5,"y":-16,"r":"high"},{"x":10,"y":-16.5,"r":"high"},{"x":10,"y":-15.5,"r":"high"},{"x":1.5,"y":-17.2,"r":"high"},{"x":2.5,"y":-17,"r":"high"},{"x":0.5,"y":-17.5,"r":"high"},{"x":-3,"y":15.8,"r":"high"},{"x":7,"y":12,"r":"high"},{"x":8.5,"y":12.5,"r":"high"},{"x":6.5,"y":2,"r":"high"},{"x":7.5,"y":2,"r":"high"},{"x":10,"y":0.8,"r":"high"},{"x":-3.5,"y":-13,"r":"high"},{"x":-8,"y":-8,"r":"high"},{"x":-6,"y":-11,"r":"high"},
      {"x":11,"y":-4.5,"r":"high"},{"x":12,"y":-5,"r":"high"},{"x":11.5,"y":-7.5,"r":"high"},{"x":12,"y":-12,"r":"high"},{"x":13,"y":-12.5,"r":"high"},{"x":12.5,"y":-13.5,"r":"high"},{"x":13.5,"y":-13.5,"r":"high"},{"x":14,"y":-12.8,"r":"high"},{"x":13,"y":-9.8,"r":"high"},{"x":14,"y":-10,"r":"high"},{"x":15,"y":-10.2,"r":"high"},{"x":15.5,"y":-9.5,"r":"high"},{"x":16,"y":-10.5,"r":"high"},{"x":16.5,"y":-8,"r":"high"},{"x":17,"y":-8.5,"r":"high"},{"x":17.5,"y":-8,"r":"high"},{"x":16.5,"y":-5.5,"r":"high"},{"x":17.5,"y":-5,"r":"high"},{"x":15,"y":-5.5,"r":"high"},{"x":14.5,"y":-5,"r":"high"},{"x":15.5,"y":-1.8,"r":"high"},{"x":16.5,"y":-1.5,"r":"high"},{"x":14,"y":-1,"r":"high"},{"x":14.5,"y":1,"r":"high"},{"x":15,"y":3,"r":"high"},{"x":14,"y":4,"r":"high"},{"x":13,"y":7.8,"r":"high"},{"x":14,"y":6,"r":"high"},{"x":18,"y":-3,"r":"high"},{"x":19,"y":-2.5,"r":"high"},{"x":19.5,"y":-3.5,"r":"high"},{"x":20,"y":-4.5,"r":"high"},{"x":20,"y":-6,"r":"high"},{"x":21,"y":-5.5,"r":"high"},{"x":20,"y":-8.5,"r":"high"},{"x":20.5,"y":-9,"r":"high"},{"x":21,"y":-11.5,"r":"high"},{"x":20,"y":-12.5,"r":"high"},{"x":19.5,"y":-13,"r":"high"},{"x":18.5,"y":-12,"r":"high"},{"x":18.5,"y":-14.5,"r":"high"},{"x":18,"y":-15.5,"r":"high"},{"x":19,"y":-15,"r":"high"},{"x":19.5,"y":-16,"r":"high"},{"x":20,"y":-15.5,"r":"high"},{"x":21.5,"y":-9,"r":"high"},{"x":22.5,"y":-7,"r":"high"},{"x":23,"y":-8.5,"r":"high"},{"x":23.5,"y":-6,"r":"high"},{"x":24,"y":-6.5,"r":"high"},{"x":23,"y":-3,"r":"high"},{"x":24.5,"y":-3,"r":"high"},{"x":25.5,"y":-1.5,"r":"high"},{"x":26,"y":-1,"r":"high"},{"x":26.5,"y":-3,"r":"high"},{"x":27.5,"y":-4.5,"r":"high"},{"x":27.5,"y":-6,"r":"high"},{"x":28.5,"y":-6.8,"r":"high"},{"x":29.5,"y":-6.5,"r":"high"},{"x":29,"y":-3,"r":"high"},{"x":28,"y":-3,"r":"high"},{"x":27,"y":-2.5,"r":"high"},{"x":24,"y":-10,"r":"high"},{"x":25,"y":-10,"r":"high"},{"x":25.5,"y":-9.5,"r":"high"},{"x":26,"y":-10.5,"r":"high"},{"x":27.5,"y":-9,"r":"high"},{"x":28.5,"y":-9.2,"r":"high"},{"x":29,"y":-9.5,"r":"high"},{"x":30,"y":-9.8,"r":"high"},{"x":30.5,"y":-9.3,"r":"high"},{"x":28,"y":-11,"r":"high"},{"x":26.5,"y":-11.5,"r":"high"},{"x":25,"y":-12.5,"r":"high"},{"x":24.5,"y":-12,"r":"high"},{"x":22,"y":-2,"r":"high"},{"x":21.5,"y":-2.5,"r":"high"},{"x":22,"y":0,"r":"high"},{"x":21.5,"y":1.5,"r":"high"},{"x":24,"y":3,"r":"high"},{"x":24.5,"y":4.5,"r":"high"},{"x":24,"y":4,"r":"high"},{"x":25,"y":2,"r":"high"},{"x":18,"y":0.5,"r":"high"},{"x":17,"y":0,"r":"high"},{"x":19,"y":4.5,"r":"high"},{"x":20,"y":3.5,"r":"high"},{"x":21,"y":3,"r":"high"},{"x":19,"y":1.5,"r":"high"},{"x":23,"y":0.5,"r":"high"},{"x":24,"y":-0.5,"r":"high"}
    ],
    "km": [
      {"t":0,"s":1,"lo":1,"hi":1,"g":"High risk"},{"t":0.2,"s":0.985,"lo":0.97,"hi":1,"g":"High risk"},{"t":0.4,"s":0.97,"lo":0.95,"hi":0.99,"g":"High risk"},{"t":0.6,"s":0.95,"lo":0.925,"hi":0.975,"g":"High risk"},{"t":0.8,"s":0.925,"lo":0.895,"hi":0.955,"g":"High risk"},{"t":1.0,"s":0.89,"lo":0.855,"hi":0.925,"g":"High risk"},{"t":1.2,"s":0.855,"lo":0.815,"hi":0.895,"g":"High risk"},{"t":1.4,"s":0.82,"lo":0.775,"hi":0.865,"g":"High risk"},{"t":1.6,"s":0.775,"lo":0.73,"hi":0.82,"g":"High risk"},{"t":1.8,"s":0.74,"lo":0.69,"hi":0.79,"g":"High risk"},{"t":2.0,"s":0.69,"lo":0.64,"hi":0.745,"g":"High risk"},{"t":2.2,"s":0.655,"lo":0.6,"hi":0.71,"g":"High risk"},{"t":2.4,"s":0.61,"lo":0.555,"hi":0.67,"g":"High risk"},{"t":2.6,"s":0.58,"lo":0.52,"hi":0.64,"g":"High risk"},{"t":2.8,"s":0.545,"lo":0.485,"hi":0.61,"g":"High risk"},{"t":3.0,"s":0.51,"lo":0.445,"hi":0.575,"g":"High risk"},{"t":3.2,"s":0.475,"lo":0.41,"hi":0.545,"g":"High risk"},{"t":3.4,"s":0.435,"lo":0.37,"hi":0.505,"g":"High risk"},{"t":3.6,"s":0.39,"lo":0.325,"hi":0.465,"g":"High risk"},{"t":3.8,"s":0.385,"lo":0.315,"hi":0.46,"g":"High risk"},{"t":4.0,"s":0.36,"lo":0.29,"hi":0.44,"g":"High risk"},{"t":4.2,"s":0.33,"lo":0.26,"hi":0.425,"g":"High risk"},{"t":5.2,"s":0.325,"lo":0.255,"hi":0.425,"g":"High risk"},{"t":5.5,"s":0.31,"lo":0.24,"hi":0.425,"g":"High risk"},{"t":6.4,"s":0.295,"lo":0.22,"hi":0.405,"g":"High risk"},{"t":6.6,"s":0.285,"lo":0.196,"hi":0.405,"g":"High risk"},{"t":7.2,"s":0.22,"lo":0.137,"hi":0.354,"g":"High risk"},{"t":9.2,"s":0.165,"lo":0.079,"hi":0.343,"g":"High risk"},{"t":19.9,"s":0.165,"lo":0.079,"hi":0.343,"g":"High risk"},
      {"t":0,"s":1,"lo":1,"hi":1,"g":"Low risk"},{"t":0.5,"s":0.99,"lo":0.975,"hi":1,"g":"Low risk"},{"t":0.8,"s":0.965,"lo":0.94,"hi":0.99,"g":"Low risk"},{"t":1.0,"s":0.95,"lo":0.92,"hi":0.98,"g":"Low risk"},{"t":1.3,"s":0.93,"lo":0.895,"hi":0.965,"g":"Low risk"},{"t":1.6,"s":0.905,"lo":0.865,"hi":0.945,"g":"Low risk"},{"t":1.8,"s":0.89,"lo":0.845,"hi":0.935,"g":"Low risk"},{"t":2.2,"s":0.88,"lo":0.835,"hi":0.93,"g":"Low risk"},{"t":2.5,"s":0.865,"lo":0.815,"hi":0.92,"g":"Low risk"},{"t":2.7,"s":0.82,"lo":0.765,"hi":0.88,"g":"Low risk"},{"t":3.0,"s":0.8,"lo":0.74,"hi":0.865,"g":"Low risk"},{"t":3.4,"s":0.765,"lo":0.7,"hi":0.835,"g":"Low risk"},{"t":3.6,"s":0.72,"lo":0.65,"hi":0.795,"g":"Low risk"},{"t":4.0,"s":0.69,"lo":0.615,"hi":0.77,"g":"Low risk"},{"t":4.3,"s":0.63,"lo":0.55,"hi":0.72,"g":"Low risk"},{"t":4.6,"s":0.575,"lo":0.49,"hi":0.67,"g":"Low risk"},{"t":4.9,"s":0.505,"lo":0.405,"hi":0.623,"g":"Low risk"},{"t":5.9,"s":0.49,"lo":0.39,"hi":0.6,"g":"Low risk"},{"t":6.4,"s":0.46,"lo":0.359,"hi":0.568,"g":"Low risk"},{"t":7.3,"s":0.43,"lo":0.271,"hi":0.55,"g":"Low risk"},{"t":8.6,"s":0.385,"lo":0.271,"hi":0.545,"g":"Low risk"},{"t":13.7,"s":0.385,"lo":0.271,"hi":0.545,"g":"Low risk"}
    ],
    "cens": [
      {"t":0.3,"s":0.985,"g":"High risk"},{"t":0.5,"s":0.97,"g":"High risk"},{"t":0.7,"s":0.95,"g":"High risk"},{"t":0.9,"s":0.925,"g":"High risk"},{"t":1.1,"s":0.89,"g":"High risk"},{"t":1.3,"s":0.855,"g":"High risk"},{"t":1.5,"s":0.82,"g":"High risk"},{"t":1.7,"s":0.775,"g":"High risk"},{"t":1.9,"s":0.74,"g":"High risk"},{"t":2.1,"s":0.69,"g":"High risk"},{"t":2.3,"s":0.655,"g":"High risk"},{"t":2.5,"s":0.61,"g":"High risk"},{"t":2.7,"s":0.58,"g":"High risk"},{"t":2.9,"s":0.545,"g":"High risk"},{"t":3.1,"s":0.51,"g":"High risk"},{"t":3.3,"s":0.475,"g":"High risk"},{"t":3.5,"s":0.435,"g":"High risk"},{"t":3.7,"s":0.39,"g":"High risk"},{"t":3.9,"s":0.385,"g":"High risk"},{"t":4.1,"s":0.36,"g":"High risk"},{"t":4.6,"s":0.33,"g":"High risk"},{"t":5.0,"s":0.33,"g":"High risk"},{"t":5.8,"s":0.31,"g":"High risk"},{"t":6.1,"s":0.31,"g":"High risk"},{"t":6.9,"s":0.285,"g":"High risk"},{"t":7.6,"s":0.22,"g":"High risk"},{"t":7.9,"s":0.22,"g":"High risk"},{"t":8.2,"s":0.22,"g":"High risk"},{"t":18.4,"s":0.165,"g":"High risk"},{"t":19.3,"s":0.165,"g":"High risk"},{"t":19.9,"s":0.165,"g":"High risk"},
      {"t":0.35,"s":1,"g":"Low risk"},{"t":0.6,"s":0.99,"g":"Low risk"},{"t":0.9,"s":0.965,"g":"Low risk"},{"t":1.1,"s":0.95,"g":"Low risk"},{"t":1.4,"s":0.93,"g":"Low risk"},{"t":1.7,"s":0.905,"g":"Low risk"},{"t":1.9,"s":0.89,"g":"Low risk"},{"t":2.1,"s":0.89,"g":"Low risk"},{"t":2.3,"s":0.88,"g":"Low risk"},{"t":2.6,"s":0.865,"g":"Low risk"},{"t":2.8,"s":0.82,"g":"Low risk"},{"t":3.1,"s":0.8,"g":"Low risk"},{"t":3.3,"s":0.8,"g":"Low risk"},{"t":3.5,"s":0.765,"g":"Low risk"},{"t":3.8,"s":0.72,"g":"Low risk"},{"t":4.1,"s":0.69,"g":"Low risk"},{"t":5.1,"s":0.505,"g":"Low risk"},{"t":5.4,"s":0.505,"g":"Low risk"},{"t":5.7,"s":0.505,"g":"Low risk"},{"t":6.1,"s":0.49,"g":"Low risk"},{"t":6.7,"s":0.46,"g":"Low risk"},{"t":7.0,"s":0.46,"g":"Low risk"},{"t":7.6,"s":0.43,"g":"Low risk"},{"t":8.2,"s":0.43,"g":"Low risk"},{"t":9.1,"s":0.385,"g":"Low risk"},{"t":10.0,"s":0.385,"g":"Low risk"},{"t":10.4,"s":0.385,"g":"Low risk"},{"t":11.0,"s":0.385,"g":"Low risk"},{"t":13.1,"s":0.385,"g":"Low risk"},{"t":13.7,"s":0.385,"g":"Low risk"}
    ],
    "roc": [
      {"k":0,"f":0,"v":0,"yr":"AUC at 1 years: 0.702"},{"k":1,"f":0.01,"v":0,"yr":"AUC at 1 years: 0.702"},{"k":2,"f":0.01,"v":0.08,"yr":"AUC at 1 years: 0.702"},{"k":3,"f":0.02,"v":0.1,"yr":"AUC at 1 years: 0.702"},{"k":4,"f":0.03,"v":0.1,"yr":"AUC at 1 years: 0.702"},{"k":5,"f":0.04,"v":0.14,"yr":"AUC at 1 years: 0.702"},{"k":6,"f":0.05,"v":0.18,"yr":"AUC at 1 years: 0.702"},{"k":7,"f":0.06,"v":0.22,"yr":"AUC at 1 years: 0.702"},{"k":8,"f":0.07,"v":0.25,"yr":"AUC at 1 years: 0.702"},{"k":9,"f":0.08,"v":0.28,"yr":"AUC at 1 years: 0.702"},{"k":10,"f":0.09,"v":0.3,"yr":"AUC at 1 years: 0.702"},{"k":11,"f":0.1,"v":0.32,"yr":"AUC at 1 years: 0.702"},{"k":12,"f":0.12,"v":0.33,"yr":"AUC at 1 years: 0.702"},{"k":13,"f":0.12,"v":0.37,"yr":"AUC at 1 years: 0.702"},{"k":14,"f":0.14,"v":0.4,"yr":"AUC at 1 years: 0.702"},{"k":15,"f":0.16,"v":0.43,"yr":"AUC at 1 years: 0.702"},{"k":16,"f":0.2,"v":0.43,"yr":"AUC at 1 years: 0.702"},{"k":17,"f":0.2,"v":0.52,"yr":"AUC at 1 years: 0.702"},{"k":18,"f":0.23,"v":0.52,"yr":"AUC at 1 years: 0.702"},{"k":19,"f":0.23,"v":0.55,"yr":"AUC at 1 years: 0.702"},{"k":20,"f":0.26,"v":0.58,"yr":"AUC at 1 years: 0.702"},{"k":21,"f":0.26,"v":0.64,"yr":"AUC at 1 years: 0.702"},{"k":22,"f":0.34,"v":0.64,"yr":"AUC at 1 years: 0.702"},{"k":23,"f":0.38,"v":0.68,"yr":"AUC at 1 years: 0.702"},{"k":24,"f":0.42,"v":0.7,"yr":"AUC at 1 years: 0.702"},{"k":25,"f":0.44,"v":0.71,"yr":"AUC at 1 years: 0.702"},{"k":26,"f":0.46,"v":0.77,"yr":"AUC at 1 years: 0.702"},{"k":27,"f":0.61,"v":0.77,"yr":"AUC at 1 years: 0.702"},{"k":28,"f":0.62,"v":0.79,"yr":"AUC at 1 years: 0.702"},{"k":29,"f":0.65,"v":0.79,"yr":"AUC at 1 years: 0.702"},{"k":30,"f":0.66,"v":0.84,"yr":"AUC at 1 years: 0.702"},{"k":31,"f":0.72,"v":0.87,"yr":"AUC at 1 years: 0.702"},{"k":32,"f":0.74,"v":0.9,"yr":"AUC at 1 years: 0.702"},{"k":33,"f":0.76,"v":0.92,"yr":"AUC at 1 years: 0.702"},{"k":34,"f":0.8,"v":0.94,"yr":"AUC at 1 years: 0.702"},{"k":35,"f":0.8,"v":0.96,"yr":"AUC at 1 years: 0.702"},{"k":36,"f":0.83,"v":0.98,"yr":"AUC at 1 years: 0.702"},{"k":37,"f":0.91,"v":0.98,"yr":"AUC at 1 years: 0.702"},{"k":38,"f":0.91,"v":1,"yr":"AUC at 1 years: 0.702"},{"k":39,"f":1,"v":1,"yr":"AUC at 1 years: 0.702"},
      {"k":0,"f":0,"v":0,"yr":"AUC at 2 years: 0.700"},{"k":1,"f":0.005,"v":0.02,"yr":"AUC at 2 years: 0.700"},{"k":2,"f":0.01,"v":0.1,"yr":"AUC at 2 years: 0.700"},{"k":3,"f":0.02,"v":0.15,"yr":"AUC at 2 years: 0.700"},{"k":4,"f":0.04,"v":0.16,"yr":"AUC at 2 years: 0.700"},{"k":5,"f":0.05,"v":0.19,"yr":"AUC at 2 years: 0.700"},{"k":6,"f":0.06,"v":0.22,"yr":"AUC at 2 years: 0.700"},{"k":7,"f":0.07,"v":0.26,"yr":"AUC at 2 years: 0.700"},{"k":8,"f":0.08,"v":0.28,"yr":"AUC at 2 years: 0.700"},{"k":9,"f":0.1,"v":0.31,"yr":"AUC at 2 years: 0.700"},{"k":10,"f":0.1,"v":0.36,"yr":"AUC at 2 years: 0.700"},{"k":11,"f":0.12,"v":0.38,"yr":"AUC at 2 years: 0.700"},{"k":12,"f":0.14,"v":0.39,"yr":"AUC at 2 years: 0.700"},{"k":13,"f":0.15,"v":0.43,"yr":"AUC at 2 years: 0.700"},{"k":14,"f":0.16,"v":0.46,"yr":"AUC at 2 years: 0.700"},{"k":15,"f":0.18,"v":0.47,"yr":"AUC at 2 years: 0.700"},{"k":16,"f":0.2,"v":0.51,"yr":"AUC at 2 years: 0.700"},{"k":17,"f":0.22,"v":0.55,"yr":"AUC at 2 years: 0.700"},{"k":18,"f":0.24,"v":0.56,"yr":"AUC at 2 years: 0.700"},{"k":19,"f":0.25,"v":0.58,"yr":"AUC at 2 years: 0.700"},{"k":20,"f":0.28,"v":0.59,"yr":"AUC at 2 years: 0.700"},{"k":21,"f":0.3,"v":0.6,"yr":"AUC at 2 years: 0.700"},{"k":22,"f":0.33,"v":0.62,"yr":"AUC at 2 years: 0.700"},{"k":23,"f":0.36,"v":0.63,"yr":"AUC at 2 years: 0.700"},{"k":24,"f":0.37,"v":0.66,"yr":"AUC at 2 years: 0.700"},{"k":25,"f":0.4,"v":0.68,"yr":"AUC at 2 years: 0.700"},{"k":26,"f":0.42,"v":0.69,"yr":"AUC at 2 years: 0.700"},{"k":27,"f":0.44,"v":0.73,"yr":"AUC at 2 years: 0.700"},{"k":28,"f":0.46,"v":0.74,"yr":"AUC at 2 years: 0.700"},{"k":29,"f":0.5,"v":0.75,"yr":"AUC at 2 years: 0.700"},{"k":30,"f":0.52,"v":0.76,"yr":"AUC at 2 years: 0.700"},{"k":31,"f":0.58,"v":0.76,"yr":"AUC at 2 years: 0.700"},{"k":32,"f":0.6,"v":0.77,"yr":"AUC at 2 years: 0.700"},{"k":33,"f":0.62,"v":0.78,"yr":"AUC at 2 years: 0.700"},{"k":34,"f":0.62,"v":0.81,"yr":"AUC at 2 years: 0.700"},{"k":35,"f":0.64,"v":0.84,"yr":"AUC at 2 years: 0.700"},{"k":36,"f":0.67,"v":0.85,"yr":"AUC at 2 years: 0.700"},{"k":37,"f":0.72,"v":0.87,"yr":"AUC at 2 years: 0.700"},{"k":38,"f":0.76,"v":0.88,"yr":"AUC at 2 years: 0.700"},{"k":39,"f":0.78,"v":0.9,"yr":"AUC at 2 years: 0.700"},{"k":40,"f":0.8,"v":0.91,"yr":"AUC at 2 years: 0.700"},{"k":41,"f":0.84,"v":0.93,"yr":"AUC at 2 years: 0.700"},{"k":42,"f":0.88,"v":0.94,"yr":"AUC at 2 years: 0.700"},{"k":43,"f":0.9,"v":0.97,"yr":"AUC at 2 years: 0.700"},{"k":44,"f":0.97,"v":0.98,"yr":"AUC at 2 years: 0.700"},{"k":45,"f":1,"v":0.99,"yr":"AUC at 2 years: 0.700"},
      {"k":0,"f":0,"v":0,"yr":"AUC at 3 years: 0.705"},{"k":1,"f":0.005,"v":0.03,"yr":"AUC at 3 years: 0.705"},{"k":2,"f":0.01,"v":0.08,"yr":"AUC at 3 years: 0.705"},{"k":3,"f":0.02,"v":0.1,"yr":"AUC at 3 years: 0.705"},{"k":4,"f":0.03,"v":0.13,"yr":"AUC at 3 years: 0.705"},{"k":5,"f":0.04,"v":0.16,"yr":"AUC at 3 years: 0.705"},{"k":6,"f":0.04,"v":0.2,"yr":"AUC at 3 years: 0.705"},{"k":7,"f":0.05,"v":0.25,"yr":"AUC at 3 years: 0.705"},{"k":8,"f":0.06,"v":0.28,"yr":"AUC at 3 years: 0.705"},{"k":9,"f":0.065,"v":0.33,"yr":"AUC at 3 years: 0.705"},{"k":10,"f":0.07,"v":0.35,"yr":"AUC at 3 years: 0.705"},{"k":11,"f":0.09,"v":0.36,"yr":"AUC at 3 years: 0.705"},{"k":12,"f":0.11,"v":0.38,"yr":"AUC at 3 years: 0.705"},{"k":13,"f":0.12,"v":0.4,"yr":"AUC at 3 years: 0.705"},{"k":14,"f":0.13,"v":0.44,"yr":"AUC at 3 years: 0.705"},{"k":15,"f":0.16,"v":0.46,"yr":"AUC at 3 years: 0.705"},{"k":16,"f":0.18,"v":0.48,"yr":"AUC at 3 years: 0.705"},{"k":17,"f":0.2,"v":0.51,"yr":"AUC at 3 years: 0.705"},{"k":18,"f":0.22,"v":0.53,"yr":"AUC at 3 years: 0.705"},{"k":19,"f":0.24,"v":0.56,"yr":"AUC at 3 years: 0.705"},{"k":20,"f":0.27,"v":0.57,"yr":"AUC at 3 years: 0.705"},{"k":21,"f":0.3,"v":0.59,"yr":"AUC at 3 years: 0.705"},{"k":22,"f":0.32,"v":0.6,"yr":"AUC at 3 years: 0.705"},{"k":23,"f":0.34,"v":0.64,"yr":"AUC at 3 years: 0.705"},{"k":24,"f":0.36,"v":0.66,"yr":"AUC at 3 years: 0.705"},{"k":25,"f":0.38,"v":0.7,"yr":"AUC at 3 years: 0.705"},{"k":26,"f":0.39,"v":0.72,"yr":"AUC at 3 years: 0.705"},{"k":27,"f":0.43,"v":0.72,"yr":"AUC at 3 years: 0.705"},{"k":28,"f":0.45,"v":0.74,"yr":"AUC at 3 years: 0.705"},{"k":29,"f":0.5,"v":0.75,"yr":"AUC at 3 years: 0.705"},{"k":30,"f":0.54,"v":0.78,"yr":"AUC at 3 years: 0.705"},{"k":31,"f":0.58,"v":0.81,"yr":"AUC at 3 years: 0.705"},{"k":32,"f":0.6,"v":0.83,"yr":"AUC at 3 years: 0.705"},{"k":33,"f":0.64,"v":0.84,"yr":"AUC at 3 years: 0.705"},{"k":34,"f":0.68,"v":0.86,"yr":"AUC at 3 years: 0.705"},{"k":35,"f":0.72,"v":0.87,"yr":"AUC at 3 years: 0.705"},{"k":36,"f":0.76,"v":0.89,"yr":"AUC at 3 years: 0.705"},{"k":37,"f":0.79,"v":0.9,"yr":"AUC at 3 years: 0.705"},{"k":38,"f":0.83,"v":0.9,"yr":"AUC at 3 years: 0.705"},{"k":39,"f":0.85,"v":0.92,"yr":"AUC at 3 years: 0.705"},{"k":40,"f":0.88,"v":0.94,"yr":"AUC at 3 years: 0.705"},{"k":41,"f":0.92,"v":0.96,"yr":"AUC at 3 years: 0.705"},{"k":42,"f":0.95,"v":0.98,"yr":"AUC at 3 years: 0.705"},{"k":43,"f":1,"v":0.99,"yr":"AUC at 3 years: 0.705"}
    ]
  },
  "resolve": {"scale": {"color": "independent", "fill": "independent", "stroke": "independent"}, "legend": {"color": "independent", "fill": "independent", "stroke": "independent"}},
  "spacing": 22.5,
  "vconcat": [
    {
      "spacing": 14.2,
      "resolve": {"scale": {"color": "independent", "fill": "independent", "stroke": "independent"}, "legend": {"color": "independent", "fill": "independent", "stroke": "independent"}},
      "hconcat": [
        {
          "spacing": 2,
          "resolve": {"scale": {"color": "independent"}, "legend": {"color": "independent"}},
          "vconcat": [
            {
              "width": 384.2, "height": 236,
              "view": {"stroke": "#000", "strokeWidth": 1},
              "layer": [
                {
                  "data": {"name": "riskcurve"},
                  "transform": [{"filter": "datum.i >= 5"}],
                  "mark": {"type": "line", "strokeWidth": 5, "strokeCap": "round", "strokeJoin": "round"},
                  "encoding": {
                    "x": {"field": "i", "type": "quantitative", "scale": {"domain": [-17.9, 491.9], "nice": false, "zero": false},
                      "axis": {"values": [0, 100, 200, 300, 400], "title": null, "domain": false, "tickSize": 5, "labelFontSize": 9, "labelPadding": 1}},
                    "y": {"field": "r", "type": "quantitative", "scale": {"domain": [0.354, 2.406], "nice": false, "zero": false},
                      "axis": {"values": [0.5, 1, 1.5, 2], "format": ".1f", "title": "Risk score", "domain": false, "tickSize": 5, "labelFontSize": 9, "labelAngle": -90, "labelAlign": "center", "labelBaseline": "alphabetic", "labelPadding": 7.6, "titleFontSize": 9.5, "titlePadding": 13.5}},
                    "color": {"field": "g", "type": "nominal", "scale": {"domain": ["High risk", "low Risk"], "range": ["#FF0000", "#0000FF"]},
                      "legend": {"orient": "none", "legendX": 7, "legendY": 6.5, "title": null, "labelFontSize": 11, "symbolType": "circle", "symbolSize": 40, "symbolStrokeWidth": 0, "labelOffset": 7, "rowPadding": 2.7}}
                  }
                },
                {
                  "data": {"name": "riskcurve"},
                  "mark": {"type": "circle", "size": 26, "opacity": 1},
                  "encoding": {
                    "x": {"field": "i", "type": "quantitative", "scale": {"domain": [-17.9, 491.9], "nice": false, "zero": false}},
                    "y": {"field": "r", "type": "quantitative", "scale": {"domain": [0.354, 2.406], "nice": false, "zero": false}},
                    "color": {"field": "g", "type": "nominal", "scale": {"domain": ["High risk", "low Risk"], "range": ["#FF0000", "#0000FF"]},
                      "legend": {"orient": "none", "legendX": 7, "legendY": 6.5, "title": null, "labelFontSize": 11, "symbolType": "circle", "symbolSize": 40, "symbolStrokeWidth": 0, "labelOffset": 7, "rowPadding": 2.7}}
                  }
                },
                {
                  "data": {"name": "cuts"},
                  "mark": {"type": "rule", "strokeDash": [3, 3], "color": "#444", "strokeWidth": 1},
                  "encoding": {"y": {"field": "r", "type": "quantitative", "scale": {"domain": [0.354, 2.406], "nice": false, "zero": false}}}
                },
                {
                  "data": {"name": "cuts"},
                  "mark": {"type": "rule", "strokeDash": [3, 3], "color": "#444", "strokeWidth": 1},
                  "encoding": {"x": {"field": "i", "type": "quantitative", "scale": {"domain": [-17.9, 491.9], "nice": false, "zero": false}}}
                },
                {
                  "data": {"name": "panels"},
                  "transform": [{"filter": "datum.p === 'A'"}],
                  "mark": {"type": "text", "fontSize": 14, "fontWeight": "bold", "align": "left", "baseline": "alphabetic", "color": "#000"},
                  "encoding": {"text": {"field": "p"}, "x": {"datum": -72.8, "type": "quantitative"}, "y": {"datum": 2.302, "type": "quantitative"}}
                }
              ]
            },
            {
              "width": 384.2, "height": 237.4,
              "view": {"stroke": "#000", "strokeWidth": 1},
              "layer": [
                {
                  "data": {"name": "surv"},
                  "mark": {"type": "circle", "size": 28, "opacity": 1},
                  "encoding": {
                    "x": {"field": "i", "type": "quantitative", "scale": {"domain": [-17.9, 491.9], "nice": false, "zero": false},
                      "axis": {"values": [0, 100, 200, 300, 400], "title": "Patients (increasing risk socre)", "domain": false, "tickSize": 5, "labelFontSize": 9, "labelPadding": 1, "titleFontSize": 9.5, "titlePadding": 4}},
                    "y": {"field": "t", "type": "quantitative", "scale": {"domain": [-0.6, 20.65], "nice": false, "zero": false},
                      "axis": {"values": [0, 5, 10, 15, 20], "title": "Survival time (years)", "domain": false, "tickSize": 5, "labelFontSize": 9, "labelAngle": -90, "labelAlign": "center", "labelBaseline": "alphabetic", "labelPadding": 7.6, "titleFontSize": 9.5, "titlePadding": 13.5}},
                    "color": {"field": "s", "type": "nominal", "scale": {"domain": ["Dead", "Alive"], "range": ["#FF0000", "#0000FF"]},
                      "legend": {"orient": "none", "legendX": 7, "legendY": 8, "title": null, "labelFontSize": 11, "symbolType": "circle", "symbolSize": 40, "labelOffset": 7, "rowPadding": 2.7}}
                  }
                },
                {
                  "data": {"name": "cuts"},
                  "mark": {"type": "rule", "strokeDash": [3, 3], "color": "#888", "strokeWidth": 1.2},
                  "encoding": {"x": {"field": "i", "type": "quantitative", "scale": {"domain": [-17.9, 491.9], "nice": false, "zero": false}}}
                }
              ]
            }
          ]
        },
        {
          "spacing": 4,
          "resolve": {"scale": {"color": "independent"}, "legend": {"color": "independent"}},
          "vconcat": [
            {
              "width": 236.3, "height": 229.6,
              "view": {"stroke": "#666", "strokeWidth": 1},
              "layer": [
                {
                  "data": {"name": "pca"},
                  "mark": {"type": "circle", "size": 22, "opacity": 1},
                  "encoding": {
                    "x": {"field": "x", "type": "quantitative", "scale": {"domain": [-3.65, 4.07], "nice": false, "zero": false},
                      "axis": {"values": [-2, 0, 2, 4], "title": "PC1", "domain": false, "tickSize": 3, "tickColor": "#333", "labelColor": "#4D4D4D", "labelFontSize": 9, "labelPadding": 1, "titleFontSize": 11, "titlePadding": 2}},
                    "y": {"field": "y", "type": "quantitative", "scale": {"domain": [-2.11, 6.13], "nice": false, "zero": false},
                      "axis": {"values": [-2, 0, 2, 4, 6], "title": "PC2", "domain": false, "tickSize": 3, "tickColor": "#333", "labelColor": "#4D4D4D", "labelFontSize": 9, "labelPadding": 3, "titleFontSize": 11, "titlePadding": 4}},
                    "color": {"field": "r", "type": "nominal", "scale": {"domain": ["high", "low"], "range": ["#FF0000", "#0000FF"]},
                      "legend": {"orient": "none", "legendX": 250, "legendY": 93, "title": "Risk", "titleFontSize": 11, "titlePadding": 7, "labelFontSize": 9, "symbolType": "circle", "symbolSize": 22, "symbolOffset": 5, "labelOffset": 6, "rowPadding": 6}}
                  }
                },
                {
                  "data": {"name": "panels"},
                  "transform": [{"filter": "datum.p === 'B'"}],
                  "mark": {"type": "text", "fontSize": 14, "fontWeight": "bold", "align": "left", "baseline": "alphabetic", "color": "#000"},
                  "encoding": {"text": {"field": "p"}, "x": {"datum": -4.61, "type": "quantitative"}, "y": {"datum": 5.75, "type": "quantitative"}}
                }
              ]
            },
            {
              "width": 234, "height": 230.7,
              "view": {"stroke": "#666", "strokeWidth": 1},
              "layer": [
                {
                  "data": {"name": "tsne"},
                  "mark": {"type": "circle", "size": 22, "opacity": 1},
                  "encoding": {
                    "x": {"field": "x", "type": "quantitative", "scale": {"domain": [-30.1, 33.5], "nice": false, "zero": false},
                      "axis": {"values": [-30, -20, -10, 0, 10, 20, 30], "title": "tSNE1", "domain": false, "tickSize": 3, "tickColor": "#333", "labelColor": "#4D4D4D", "labelFontSize": 9, "labelPadding": 1, "titleFontSize": 11, "titlePadding": 2}},
                    "y": {"field": "y", "type": "quantitative", "scale": {"domain": [-23.5, 26.6], "nice": false, "zero": false},
                      "axis": {"values": [-20, -10, 0, 10, 20], "title": "tSNE2", "domain": false, "tickSize": 3, "tickColor": "#333", "labelColor": "#4D4D4D", "labelFontSize": 9, "labelPadding": 2, "titleFontSize": 11, "titlePadding": 4}},
                    "color": {"field": "r", "type": "nominal", "scale": {"domain": ["high", "low"], "range": ["#FF0000", "#0000FF"]},
                      "legend": {"orient": "none", "legendX": 250.5, "legendY": 92, "title": "Risk", "titleFontSize": 11, "titlePadding": 7, "labelFontSize": 9, "symbolType": "circle", "symbolSize": 22, "symbolOffset": 5, "labelOffset": 6, "rowPadding": 6}}
                  }
                },
                {
                  "data": {"name": "panels"},
                  "transform": [{"filter": "datum.p === 'C'"}],
                  "mark": {"type": "text", "fontSize": 14, "fontWeight": "bold", "align": "left", "baseline": "alphabetic", "color": "#000"},
                  "encoding": {"text": {"field": "p"}, "x": {"datum": -38.2, "type": "quantitative"}, "y": {"datum": 24.4, "type": "quantitative"}}
                }
              ]
            }
          ]
        }
      ]
    },
    {
      "spacing": 34,
      "resolve": {"scale": {"color": "independent", "fill": "independent", "stroke": "independent"}, "legend": {"color": "independent", "fill": "independent", "stroke": "independent"}},
      "hconcat": [
        {
          "width": 308.4, "height": 262.6,
          "layer": [
            {
              "data": {"name": "km"},
              "mark": {"type": "area", "interpolate": "step-after", "fillOpacity": 0.3},
              "encoding": {
                "x": {"field": "t", "type": "quantitative", "scale": {"domain": [-1.563, 21], "nice": false, "zero": false},
                  "axis": {"values": [0, 2, 4, 6, 8, 10, 12, 14, 16, 18, 20], "labelOverlap": false, "title": "Time(years)", "domain": false, "tickSize": 3.5, "tickWidth": 1.2, "labelFontSize": 11.5, "labelPadding": 2, "titleFontSize": 14, "titlePadding": 2}},
                "y": {"field": "lo", "type": "quantitative", "scale": {"domain": [-0.05, 1.174], "nice": false, "zero": false},
                  "axis": {"values": [0, 0.25, 0.5, 0.75, 1], "labelOverlap": false, "format": ".2f", "title": "Survival probability", "domain": false, "offset": -7.7, "tickSize": 3.5, "tickWidth": 1.2, "labelFontSize": 11.5, "labelPadding": 2, "titleFontSize": 14, "titlePadding": 4}},
                "y2": {"field": "hi"},
                "fill": {"field": "g", "type": "nominal", "scale": {"domain": ["High risk", "Low risk"], "range": ["#FF0000", "#0000FF"]},
                  "legend": {"orient": "none", "legendX": 84.4, "legendY": -8.7, "direction": "horizontal", "title": "Risk", "titleOrient": "left", "titleFontSize": 9.5, "titlePadding": 6, "labelFontSize": 10, "labelOffset": 6, "columnPadding": 6,
                    "symbolType": "M-1,-1H1V1H-1Z M-1,0H1 M0,-0.45V0.45", "symbolSize": 256, "symbolStrokeWidth": 1.2,
                    "encode": {"symbols": {"update": {"fillOpacity": {"value": 0.3}, "opacity": {"value": 1}, "strokeOpacity": {"value": 1}, "stroke": [{"test": "datum.value === 'High risk'", "value": "#FF0000"}, {"value": "#0000FF"}]}}}}}
              }
            },
            {
              "data": {"name": "km"},
              "mark": {"type": "line", "interpolate": "step-after", "strokeWidth": 1.5},
              "encoding": {
                "x": {"field": "t", "type": "quantitative", "scale": {"domain": [-1.563, 21], "nice": false, "zero": false},
                  "axis": {"values": [0, 2, 4, 6, 8, 10, 12, 14, 16, 18, 20], "labelOverlap": false, "title": "Time(years)", "domain": false, "tickSize": 3.5, "tickWidth": 1.2, "labelFontSize": 11.5, "labelPadding": 2, "titleFontSize": 14, "titlePadding": 2}},
                "y": {"field": "s", "type": "quantitative", "scale": {"domain": [-0.05, 1.174], "nice": false, "zero": false},
                  "axis": {"values": [0, 0.25, 0.5, 0.75, 1], "labelOverlap": false, "format": ".2f", "title": "Survival probability", "domain": false, "offset": -7.7, "tickSize": 3.5, "tickWidth": 1.2, "labelFontSize": 11.5, "labelPadding": 2, "titleFontSize": 14, "titlePadding": 4}},
                "stroke": {"field": "g", "type": "nominal", "scale": {"domain": ["High risk", "Low risk"], "range": ["#FF0000", "#0000FF"]}, "legend": null}
              }
            },
            {
              "data": {"name": "cens"},
              "mark": {"type": "point", "shape": "M-1,0H1M0,-1V1", "filled": false, "strokeWidth": 1.2, "size": 36, "opacity": 1},
              "encoding": {
                "x": {"field": "t", "type": "quantitative", "scale": {"domain": [-1.563, 21], "nice": false, "zero": false},
                  "axis": {"values": [0, 2, 4, 6, 8, 10, 12, 14, 16, 18, 20], "labelOverlap": false, "title": "Time(years)", "domain": false, "tickSize": 3.5, "tickWidth": 1.2, "labelFontSize": 11.5, "labelPadding": 2, "titleFontSize": 14, "titlePadding": 2}},
                "y": {"field": "s", "type": "quantitative", "scale": {"domain": [-0.05, 1.174], "nice": false, "zero": false},
                  "axis": {"values": [0, 0.25, 0.5, 0.75, 1], "labelOverlap": false, "format": ".2f", "title": "Survival probability", "domain": false, "offset": -7.7, "tickSize": 3.5, "tickWidth": 1.2, "labelFontSize": 11.5, "labelPadding": 2, "titleFontSize": 14, "titlePadding": 4}},
                "color": {"field": "g", "type": "nominal", "scale": {"domain": ["High risk", "Low risk"], "range": ["#FF0000", "#0000FF"]}, "legend": null}
              }
            },
            {
              "data": {"name": "panels"},
              "transform": [{"filter": "datum.p === 'D'"}],
              "mark": {"type": "rule", "color": "#000", "strokeWidth": 1.2},
              "encoding": {"x": {"datum": -1, "type": "quantitative"}, "x2": {"datum": 21}, "y": {"datum": -0.05, "type": "quantitative"}}
            },
            {
              "data": {"name": "panels"},
              "transform": [{"filter": "datum.p === 'D'"}],
              "mark": {"type": "rule", "color": "#000", "strokeWidth": 1.2},
              "encoding": {"x": {"datum": -1, "type": "quantitative"}, "y": {"datum": -0.05, "type": "quantitative"}, "y2": {"datum": 1.05}}
            },
            {
              "data": {"name": "pval"},
              "mark": {"type": "text", "fontSize": 14, "align": "left", "baseline": "middle", "color": "#000"},
              "encoding": {"text": {"field": "txt"}, "x": {"datum": 0.46, "type": "quantitative"}, "y": {"datum": 0.196, "type": "quantitative"}}
            },
            {
              "data": {"name": "panels"},
              "transform": [{"filter": "datum.p === 'D'"}],
              "mark": {"type": "text", "fontSize": 14, "fontWeight": "bold", "align": "left", "baseline": "alphabetic", "color": "#000"},
              "encoding": {"text": {"field": "p"}, "x": {"datum": -4.68, "type": "quantitative"}, "y": {"datum": 1.121, "type": "quantitative"}}
            }
          ]
        },
        {
          "width": 286, "height": 240,
          "view": {"stroke": "#000", "strokeWidth": 1},
          "layer": [
            {
              "data": {"name": "roc"},
              "mark": {"type": "line", "strokeWidth": 2},
              "encoding": {
                "x": {"field": "f", "type": "quantitative", "scale": {"domain": [-0.04, 1.04], "nice": false, "zero": false},
                  "axis": {"values": [0, 0.2, 0.4, 0.6, 0.8, 1], "format": ".1f", "title": "1-Specificity", "domain": false, "tickSize": 5, "labelFontSize": 12, "labelPadding": 15.5, "titleFontSize": 12.5, "titlePadding": 18}},
                "y": {"field": "v", "type": "quantitative", "scale": {"domain": [-0.04, 1.04], "nice": false, "zero": false},
                  "axis": {"values": [0, 0.2, 0.4, 0.6, 0.8, 1], "format": ".1f", "title": "Sensitivity", "domain": false, "tickSize": 5, "labelFontSize": 12, "labelAngle": -90, "labelAlign": "center", "labelBaseline": "alphabetic", "labelPadding": 12.5, "titleFontSize": 12.5, "titlePadding": 13}},
                "color": {"field": "yr", "type": "nominal", "scale": {"domain": ["AUC at 1 years: 0.702", "AUC at 2 years: 0.700", "AUC at 3 years: 0.705"], "range": ["#00FF00", "#0000FF", "#FF0000"]},
                  "legend": {"orient": "bottom-right", "offset": 6, "title": null, "symbolType": "stroke", "symbolStrokeWidth": 2, "symbolSize": 625, "labelFontSize": 12.5, "labelOffset": 11, "clipHeight": 16, "rowPadding": 0}},
                "order": {"field": "k", "type": "quantitative"}
              }
            },
            {
              "data": {"name": "panels"},
              "transform": [{"filter": "datum.p === 'E'"}],
              "mark": {"type": "rule", "strokeDash": [3, 3], "color": "#444", "strokeWidth": 1},
              "encoding": {
                "x": {"datum": -0.04, "type": "quantitative"}, "y": {"datum": -0.04, "type": "quantitative"},
                "x2": {"datum": 1.04}, "y2": {"datum": 1.04}
              }
            },
            {
              "data": {"name": "panels"},
              "transform": [{"filter": "datum.p === 'E'"}],
              "mark": {"type": "text", "fontSize": 14, "fontWeight": "bold", "align": "left", "baseline": "alphabetic", "color": "#000"},
              "encoding": {"text": {"field": "p"}, "x": {"datum": -0.241, "type": "quantitative"}, "y": {"datum": 0.988, "type": "quantitative"}}
            }
          ]
        }
      ]
    }
  ]
}
